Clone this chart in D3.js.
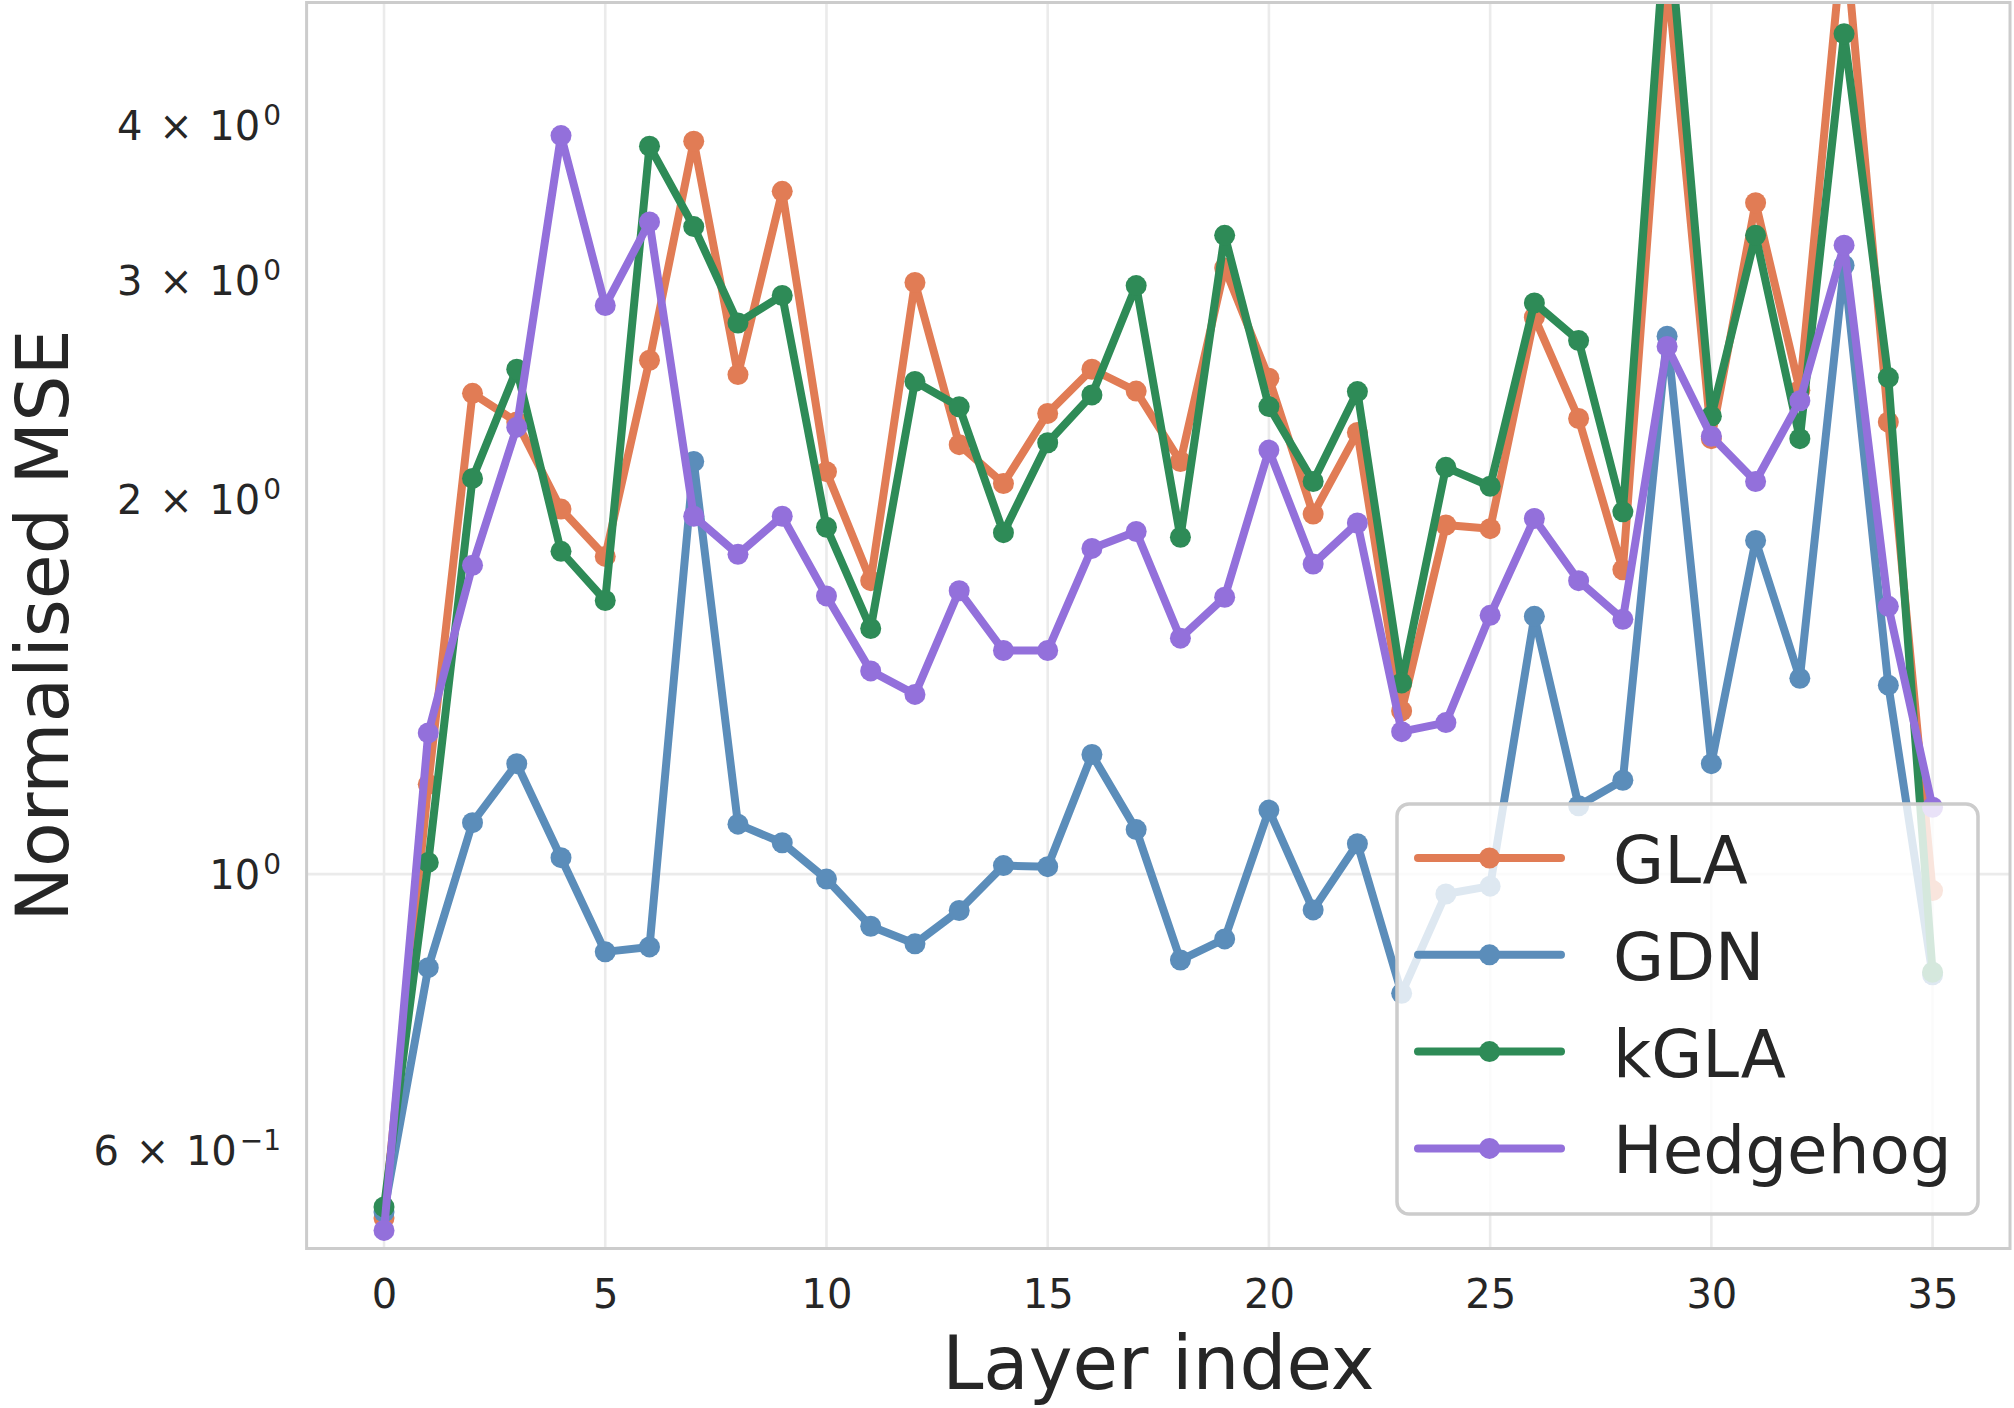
<!DOCTYPE html>
<html lang="en">
<head>
    <meta charset="UTF-8">
    <title>Normalised MSE per layer</title>
    <script src="https://d3js.org/d3.v7.min.js"></script>
    <style>
        body {
            margin: 0;
            background: #fff;
        }
        svg {
            display: block;
            font-family: "DejaVu Sans", sans-serif;
        }
    </style>
</head>
<body>
    <div id="chart"></div>

    <script>
        // data
        const layers = [0, 1, 2, 3, 4, 5, 6, 7, 8, 9, 10, 11, 12, 13, 14, 15, 16, 17,
                        18, 19, 20, 21, 22, 23, 24, 25, 26, 27, 28, 29, 30, 31, 32, 33, 34, 35];
        const gla = [0.529, 1.181, 2.436, 2.31, 1.966, 1.801, 2.590, 3.885, 2.522, 3.541, 2.107, 1.722,
                     2.991, 2.215, 2.061, 2.347, 2.547, 2.446, 2.147, 3.073, 2.505, 1.948, 2.266, 1.353,
                     1.909, 1.896, 2.805, 2.325, 1.757, 5.3, 2.240, 3.467, 2.450, 5.8, 2.310, 0.970];
        const gdn = [0.535, 0.841, 1.100, 1.227, 1.031, 0.866, 0.874, 2.147, 1.097, 1.060, 0.991, 0.908,
                     0.879, 0.935, 1.016, 1.014, 1.248, 1.086, 0.853, 0.887, 1.126, 0.936, 1.058, 0.802,
                     0.964, 0.978, 1.612, 1.135, 1.190, 2.708, 1.227, 1.855, 1.437, 3.088, 1.419, 0.83];
        const kgla = [0.540, 1.022, 2.081, 2.547, 1.818, 1.660, 3.850, 3.317, 2.775, 2.920, 1.901, 1.576,
                      2.490, 2.376, 1.882, 2.223, 2.429, 2.974, 1.866, 3.264, 2.377, 2.069, 2.444, 1.425,
                      2.124, 2.051, 2.880, 2.686, 1.956, 6.0, 2.335, 3.264, 2.240, 4.74, 2.508, 0.834];
        const hedgehog = [0.517, 1.299, 1.772, 2.288, 3.926, 2.866, 3.346, 1.940, 1.808, 1.940, 1.674, 1.457,
                          1.395, 1.690, 1.513, 1.513, 1.828, 1.886, 1.548, 1.670, 2.193, 1.776, 1.916, 1.302,
                          1.324, 1.615, 1.932, 1.722, 1.603, 2.657, 2.250, 2.069, 2.403, 3.205, 1.642, 1.132];

        const seriesNames = ["GLA", "GDN", "kGLA", "Hedgehog"];
        const xTicks = [0, 5, 10, 15, 20, 25, 30, 35];
        const yTicks = [0.6, 1, 2, 3, 4];
        const yTickLabels = [["6 × 10", "−1"], ["10", "0"], ["2 × 10", "0"], ["3 × 10", "0"], ["4 × 10", "0"]];

        const series = [gla, gdn, kgla, hedgehog].map((vals, i) => ({
            name: seriesNames[i],
            points: layers.map((l, j) => ({ layer: l, value: vals[j] }))
        }));

        const width = 2014;
        const height = 1408;
        const margin = { top: 2.5, right: 4, bottom: 159.5, left: 306.6 };
        const colors = ["#e17c55", "#5b8dba", "#2e8b57", "#9370db"];
        const textColor = "#262626";

        const svg = d3.select("#chart")
            .append("svg")
            .attr("width", width)
            .attr("height", height)
            .attr("viewBox", [0, 0, width, height]);

        svg.append("rect")
            .attr("width", width)
            .attr("height", height)
            .attr("fill", "white");

        const x = d3.scaleLinear()
            .domain([-1.75, 36.75])
            .range([margin.left, width - margin.right]);

        // log scale, the top edge sits a little above 5
        const y = d3.scaleLog()
            .domain([0.5, 5])
            .range([height - margin.bottom, margin.top + 2.5]);

        // grid (major ticks only)
        const grid = svg.append("g");
        grid.selectAll(".vgrid")
            .data(xTicks)
            .join("line")
            .attr("class", "vgrid")
            .attr("x1", d => x(d))
            .attr("x2", d => x(d))
            .attr("y1", margin.top)
            .attr("y2", height - margin.bottom)
            .attr("stroke", "#ebebeb")
            .attr("stroke-width", 2.6);
        grid.append("line")
            .attr("x1", margin.left)
            .attr("x2", width - margin.right)
            .attr("y1", y(1))
            .attr("y2", y(1))
            .attr("stroke", "#ebebeb")
            .attr("stroke-width", 2.6);

        // clip to the axes box
        svg.append("clipPath")
            .attr("id", "plot-clip")
            .append("rect")
            .attr("x", margin.left)
            .attr("y", margin.top)
            .attr("width", width - margin.left - margin.right)
            .attr("height", height - margin.top - margin.bottom);

        const line = d3.line()
            .x(d => x(d.layer))
            .y(d => y(d.value));

        const plot = svg.append("g").attr("clip-path", "url(#plot-clip)");

        series.forEach((s, i) => {
            const g = plot.append("g");
            g.append("path")
                .datum(s.points)
                .attr("d", line)
                .attr("fill", "none")
                .attr("stroke", colors[i])
                .attr("stroke-width", 8)
                .attr("stroke-linejoin", "round")
                .attr("stroke-linecap", "round");
            g.selectAll("circle")
                .data(s.points)
                .join("circle")
                .attr("cx", d => x(d.layer))
                .attr("cy", d => y(d.value))
                .attr("r", 10.5)
                .attr("fill", colors[i]);
        });

        // frame
        svg.append("rect")
            .attr("x", margin.left)
            .attr("y", margin.top)
            .attr("width", width - margin.left - margin.right)
            .attr("height", height - margin.top - margin.bottom)
            .attr("fill", "none")
            .attr("stroke", "#cccccc")
            .attr("stroke-width", 3);

        // x axis
        const xAxis = svg.append("g")
            .attr("transform", `translate(0,${height - margin.bottom})`)
            .call(d3.axisBottom(x).tickValues(xTicks).tickSize(0).tickFormat(d3.format("d")));
        xAxis.select(".domain").remove();
        xAxis.selectAll("text")
            .attr("y", 59)
            .attr("dy", null)
            .attr("fill", textColor)
            .attr("font-size", 40)
            .attr("font-family", "DejaVu Sans");

        // y axis with power-of-ten labels
        const yAxis = svg.append("g")
            .attr("transform", `translate(${margin.left},0)`)
            .call(d3.axisLeft(y).tickValues(yTicks).tickSize(0).tickFormat(() => ""));
        yAxis.select(".domain").remove();
        yAxis.selectAll(".tick text")
            .attr("x", -25.5)
            .attr("y", 14)
            .attr("dy", null)
            .attr("fill", textColor)
            .attr("font-size", 40)
            .attr("font-family", "DejaVu Sans")
            .attr("text-anchor", "end")
            .style("word-spacing", "4px")
            .each(function (d, i) {
                const t = d3.select(this);
                t.append("tspan").text(yTickLabels[i][0]);
                t.append("tspan")
                    .attr("dy", -15)
                    .attr("dx", 3)
                    .attr("font-size", 28)
                    .text(yTickLabels[i][1]);
            });

        // axis titles
        svg.append("text")
            .attr("x", (margin.left + width - margin.right) / 2)
            .attr("y", 1389)
            .attr("text-anchor", "middle")
            .attr("font-size", 74)
            .attr("fill", textColor)
            .text("Layer index");

        svg.append("text")
            .attr("transform", `translate(68,${(margin.top + height - margin.bottom) / 2}) rotate(-90)`)
            .attr("text-anchor", "middle")
            .attr("font-size", 73)
            .attr("fill", textColor)
            .text("Normalised MSE");

        // legend
        const legend = svg.append("g");
        legend.append("rect")
            .attr("x", 1397)
            .attr("y", 804)
            .attr("width", 581)
            .attr("height", 410)
            .attr("rx", 12)
            .attr("fill", "white")
            .attr("fill-opacity", 0.8)
            .attr("stroke", "#cccccc")
            .attr("stroke-width", 3.5);

        const rows = legend.selectAll(".row")
            .data(seriesNames)
            .join("g")
            .attr("class", "row")
            .attr("transform", (d, i) => `translate(0,${858 + i * 96.8})`);
        rows.append("line")
            .attr("x1", 1418)
            .attr("x2", 1561)
            .attr("stroke", (d, i) => colors[i])
            .attr("stroke-width", 8)
            .attr("stroke-linecap", "round");
        rows.append("circle")
            .attr("cx", 1489.5)
            .attr("r", 10.5)
            .attr("fill", (d, i) => colors[i]);
        rows.append("text")
            .attr("x", 1613)
            .attr("y", 25)
            .attr("font-size", 66)
            .attr("fill", textColor)
            .text(d => d);
    </script>
</body>
</html>
